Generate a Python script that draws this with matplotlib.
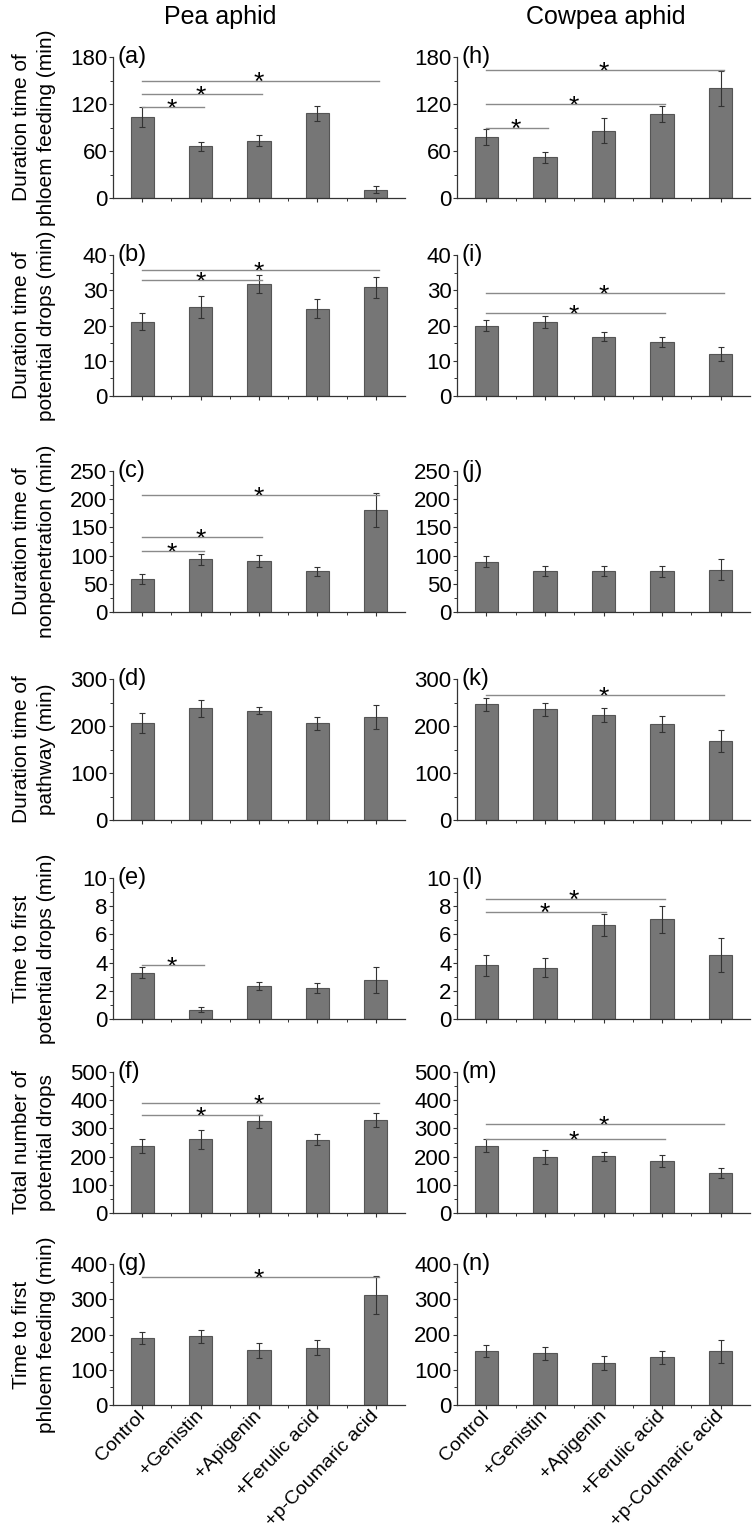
import matplotlib
matplotlib.use('Agg')
import matplotlib.pyplot as plt
from matplotlib.ticker import MultipleLocator

plt.rcParams['font.family'] = ['Liberation Sans', 'DejaVu Sans']

categories = ['Control', '+Genistin', '+Apigenin', '+Ferulic acid', '+p-Coumaric acid']
col_titles = ['Pea aphid', 'Cowpea aphid']
ylabels = ['Duration time of\nphloem feeding (min)',
           'Duration time of\npotential drops (min)',
           'Duration time of\nnonpenetration (min)',
           'Duration time of\npathway (min)',
           'Time to first\npotential drops (min)',
           'Total number of\npotential drops',
           'Time to first\nphloem feeding (min)']
panel_labels_pea = ['(a)', '(b)', '(c)', '(d)', '(e)', '(f)', '(g)']
panel_labels_cow = ['(h)', '(i)', '(j)', '(k)', '(l)', '(m)', '(n)']
ymax = [180, 40, 250, 300, 10, 500, 400]
ymajor = [60, 10, 50, 100, 2, 100, 100]

# Pea aphid: means, errors, significance (compared group, line height)
pea_a = [103.5, 66, 73, 108, 10.5]
pea_a_err = [12.5, 5.5, 7, 9.5, 4.5]
pea_a_sig = [(2, 116), (3, 133), (5, 150)]
pea_b = [21.1, 25.3, 31.8, 24.7, 30.9]
pea_b_err = [2.4, 3.1, 2.6, 2.7, 3.0]
pea_b_sig = [(3, 32.9), (5, 35.7)]
pea_c = [58, 93.6, 90, 72.3, 180.7]
pea_c_err = [9, 10, 10.5, 8, 30]
pea_c_sig = [(2, 108.4), (3, 133), (5, 206.7)]
pea_d = [205.7, 237.6, 232.6, 205.7, 219]
pea_d_err = [21, 17.7, 8, 13.5, 25]
pea_d_sig = []
pea_e = [3.29, 0.66, 2.35, 2.19, 2.78]
pea_e_err = [0.37, 0.16, 0.28, 0.33, 0.94]
pea_e_sig = [(2, 3.81)]
pea_f = [237.6, 261, 325, 260, 331]
pea_f_err = [25, 34, 22.5, 19.5, 25]
pea_f_sig = [(3, 347.5), (5, 390)]
pea_g = [190, 195, 155, 163, 312]
pea_g_err = [17, 18, 22, 22, 55]
pea_g_sig = [(5, 362)]

# Cowpea aphid
cow_h = [78, 52, 86, 107, 140]
cow_h_err = [10, 7, 15.5, 10.5, 22]
cow_h_sig = [(2, 90), (4, 120.4), (5, 163)]
cow_i = [20.0, 21.0, 16.8, 15.3, 11.9]
cow_i_err = [1.65, 1.7, 1.3, 1.5, 1.9]
cow_i_sig = [(4, 23.6), (5, 29.1)]
cow_j = [89.5, 73, 73, 72.3, 75]
cow_j_err = [9, 9, 9, 9.5, 18.5]
cow_j_sig = []
cow_k = [246, 235.5, 222.7, 204, 168]
cow_k_err = [14, 14, 15, 16.5, 22.7]
cow_k_sig = [(5, 265)]
cow_l = [3.81, 3.65, 6.66, 7.08, 4.52]
cow_l_err = [0.74, 0.65, 0.77, 0.95, 1.19]
cow_l_sig = [(3, 7.62), (4, 8.54)]
cow_m = [238.8, 198.6, 201, 184, 142]
cow_m_err = [23, 25, 16.5, 20, 18]
cow_m_sig = [(4, 262), (5, 316.8)]
cow_n = [152, 147, 120, 135, 152]
cow_n_err = [17, 18, 20, 18, 32]
cow_n_sig = []

pea = [(pea_a, pea_a_err, pea_a_sig), (pea_b, pea_b_err, pea_b_sig),
       (pea_c, pea_c_err, pea_c_sig), (pea_d, pea_d_err, pea_d_sig),
       (pea_e, pea_e_err, pea_e_sig), (pea_f, pea_f_err, pea_f_sig),
       (pea_g, pea_g_err, pea_g_sig)]
cow = [(cow_h, cow_h_err, cow_h_sig), (cow_i, cow_i_err, cow_i_sig),
       (cow_j, cow_j_err, cow_j_sig), (cow_k, cow_k_err, cow_k_sig),
       (cow_l, cow_l_err, cow_l_sig), (cow_m, cow_m_err, cow_m_sig),
       (cow_n, cow_n_err, cow_n_sig)]

W, H = 756, 1532
fig = plt.figure(figsize=(W / 100, H / 100), dpi=100)

tops = [57, 255, 471, 679, 878, 1072, 1264]
ph = 141
col_x = [(113, 405), (457, 750)]

x = list(range(1, 6))
for c, (data, labels) in enumerate([(pea, panel_labels_pea), (cow, panel_labels_cow)]):
    x0, x1 = col_x[c]
    for r in range(7):
        means, errs, sig = data[r]
        ax = fig.add_axes([x0 / W, 1 - (tops[r] + ph) / H, (x1 - x0) / W, ph / H])
        ax.bar(x, means, width=0.4, color='#767676', edgecolor='#555555',
               linewidth=0.8, zorder=2)
        ax.errorbar(x, means, yerr=errs, fmt='none', ecolor='#333333',
                    elinewidth=0.8, capsize=2, capthick=0.8, zorder=3)
        for tgt, h in sig:
            ax.plot([1, tgt + 0.05], [h, h], color='#8a8a8a', lw=1.0,
                    clip_on=False, zorder=4)
            ax.annotate('*', xy=((1 + tgt) / 2, h), xytext=(0, -7),
                        textcoords='offset points', ha='center',
                        va='baseline', fontsize=19)
        ax.set_xlim(0.5, 5.5)
        ax.set_ylim(0, ymax[r])
        ax.yaxis.set_major_locator(MultipleLocator(ymajor[r]))
        ax.yaxis.set_minor_locator(MultipleLocator(ymajor[r] / 2))
        ax.set_xticks(x)
        ax.set_xticks([1.5, 2.5, 3.5, 4.5], minor=True)
        for s in ['top', 'right']:
            ax.spines[s].set_visible(False)
        for s in ['left', 'bottom']:
            ax.spines[s].set_color('#333333')
            ax.spines[s].set_linewidth(0.9)
        ax.tick_params(which='major', direction='out', length=3, width=0.8,
                       labelsize=16, pad=1, color='#333333')
        ax.tick_params(which='minor', direction='out', length=2, width=0.7,
                       color='#333333')
        if r == 6:
            ax.set_xticklabels(categories, rotation=46, ha='right',
                               va='center', rotation_mode='anchor',
                               fontsize=14)
            ax.tick_params(axis='x', which='major', pad=3)
        else:
            ax.set_xticklabels([])
        ax.text(0.015, 1.0, labels[r], transform=ax.transAxes, ha='left',
                va='center', fontsize=17)
        if c == 0:
            fig.text(34 / W, 1 - (tops[r] + ph / 2) / H, ylabels[r],
                     rotation=90, ha='center', va='center', fontsize=15,
                     multialignment='center', linespacing=1.4)

fig.text(220 / W, 1 - 17 / H, col_titles[0], ha='center', va='center', fontsize=18)
fig.text(606 / W, 1 - 17 / H, col_titles[1], ha='center', va='center', fontsize=18)

fig.savefig('out.png', dpi=100)
